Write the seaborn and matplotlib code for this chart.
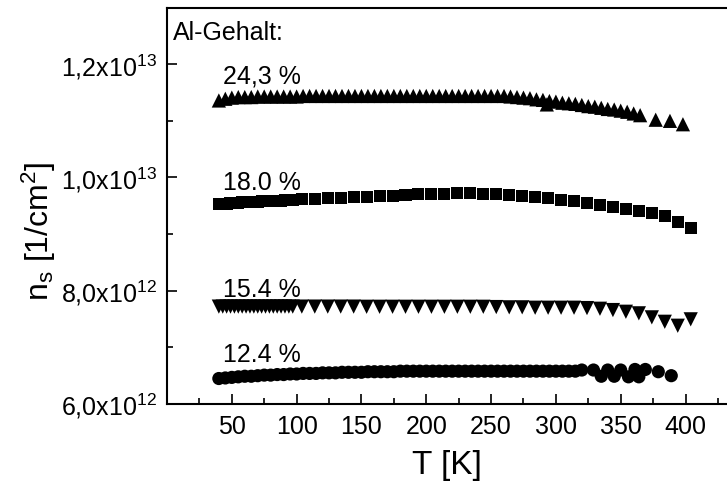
import matplotlib
matplotlib.use("Agg")
import matplotlib.pyplot as plt
import matplotlib.ticker as mticker
import seaborn as sns
import pandas as pd

# ---------------- data (n_s in units of 1e12 cm^-2) ----------------
T_243 = [40, 45, 50, 55, 60, 65, 70, 75, 80, 85, 90, 95, 100,
         105, 110, 115, 120, 125, 130, 135, 140, 145, 150, 155, 160, 165, 170, 175, 180,
         185, 190, 195, 200, 205, 210, 215, 220, 225, 230, 235, 240, 245, 250, 255, 260,
         265, 270, 275, 280, 285, 290, 295, 300, 305, 310, 315, 320, 325, 330, 335, 340,
         345, 350, 355, 360, 365, 293, 377, 388, 398]
n_243 = [11.36, 11.39, 11.41, 11.42, 11.42, 11.42, 11.43, 11.43, 11.43, 11.43, 11.43, 11.43, 11.43,
         11.44, 11.44, 11.44, 11.44, 11.44, 11.44, 11.44, 11.44, 11.44, 11.44, 11.44, 11.44, 11.44, 11.44, 11.44, 11.44,
         11.44, 11.44, 11.44, 11.44, 11.44, 11.44, 11.44, 11.44, 11.44, 11.44, 11.44, 11.44, 11.44, 11.44, 11.44, 11.44,
         11.43, 11.42, 11.41, 11.40, 11.38, 11.37, 11.35, 11.34, 11.32, 11.31, 11.30, 11.28, 11.26, 11.25, 11.23, 11.21,
         11.20, 11.18, 11.16, 11.13, 11.10, 11.29, 11.02, 11.00, 10.94]

T_180 = [40, 43, 46, 49, 52, 55, 58, 61, 64, 67, 70, 73, 76, 79, 82, 85, 88, 91, 94, 97,
         104, 114, 124, 134, 144,
         154, 164, 174, 184, 194, 204, 214, 224, 234, 244, 254, 264, 274, 284, 294, 304,
         314, 324, 334, 344, 354, 364, 374, 384, 394, 404]
n_180 = [9.53, 9.535, 9.54, 9.545, 9.55, 9.555, 9.56, 9.565, 9.57, 9.572, 9.575, 9.58, 9.582,
         9.585, 9.588, 9.59, 9.592, 9.595, 9.598, 9.60,
         9.615, 9.625, 9.635, 9.645, 9.652,
         9.658, 9.671, 9.676, 9.688, 9.701, 9.706, 9.711, 9.718, 9.718, 9.711, 9.701, 9.688, 9.671,
         9.648, 9.630, 9.600, 9.577, 9.547, 9.517, 9.482, 9.441, 9.406, 9.365, 9.312, 9.217, 9.111]

T_154 = [40, 43, 46, 49, 52, 55, 58, 61, 64, 67, 70, 73, 76, 79, 82, 85, 88, 91, 94, 97,
         104, 114, 124, 134, 144,
         154, 164, 174, 184, 194, 204, 214, 224, 234, 244, 254, 264, 274, 284, 294, 304,
         314, 324, 334, 344, 354, 364, 374, 384, 394, 404]
n_154 = [7.72, 7.72, 7.72, 7.72, 7.72, 7.72, 7.72, 7.72, 7.72, 7.72, 7.72, 7.72, 7.72,
         7.72, 7.72, 7.72, 7.72, 7.72, 7.72, 7.72,
         7.72, 7.72, 7.72, 7.72, 7.72,
         7.717, 7.717, 7.717, 7.717, 7.717, 7.717, 7.717, 7.717, 7.717, 7.717, 7.712, 7.707, 7.707,
         7.700, 7.700, 7.700, 7.700, 7.694, 7.682, 7.659, 7.629, 7.601, 7.530, 7.452, 7.382, 7.495]

T_124 = [40, 45, 50, 55, 60, 65, 70, 75, 80, 85, 90, 95, 100, 105, 110, 115, 120, 125, 130,
         135, 140, 145, 150, 155, 160, 165, 170, 175, 180,
         185, 190, 195, 200, 205, 210, 215, 220, 225, 230, 235, 240, 245, 250, 255, 260,
         265, 270, 275, 280, 285, 290, 295, 300, 305, 310, 315,
         320, 329, 335, 340, 345, 350, 356, 361, 364, 369, 379, 389]
n_124 = [6.45, 6.46, 6.47, 6.48, 6.49, 6.49, 6.50, 6.51, 6.51, 6.52, 6.52, 6.53, 6.53, 6.54,
         6.54, 6.54, 6.55, 6.55, 6.55, 6.56, 6.56, 6.56, 6.56, 6.57, 6.57, 6.57, 6.57, 6.57, 6.58,
         6.58, 6.58, 6.58, 6.58, 6.58, 6.58, 6.58, 6.58, 6.58, 6.58, 6.58, 6.58, 6.58, 6.58, 6.58, 6.58,
         6.58, 6.58, 6.58, 6.58, 6.58, 6.58, 6.58, 6.58, 6.58, 6.58, 6.58,
         6.60, 6.60, 6.49, 6.60, 6.49, 6.60, 6.48, 6.61, 6.48, 6.61, 6.57, 6.50]

series_labels = ["24,3 %", "18.0 %", "15.4 %", "12.4 %"]
header_label = "Al-Gehalt:"
y_ticks = [6e12, 8e12, 1e13, 1.2e13]
y_tick_labels = ["6,0x10$^{12}$", "8,0x10$^{12}$", "1,0x10$^{13}$", "1,2x10$^{13}$"]
x_ticks = [50, 100, 150, 200, 250, 300, 350, 400]

# ---------------- style ----------------
sns.set_theme(style="ticks")
plt.rcParams["font.family"] = ["Liberation Sans", "DejaVu Sans"]
plt.rcParams["mathtext.fontset"] = "custom"
plt.rcParams["mathtext.rm"] = "Liberation Sans"
plt.rcParams["mathtext.it"] = "Liberation Sans:italic"
plt.rcParams["mathtext.default"] = "regular"
plt.rcParams["text.color"] = "black"
plt.rcParams["axes.labelcolor"] = "black"
plt.rcParams["xtick.color"] = "black"
plt.rcParams["ytick.color"] = "black"

frames = []
for lab, T, n in [(series_labels[0], T_243, n_243), (series_labels[1], T_180, n_180),
                  (series_labels[2], T_154, n_154), (series_labels[3], T_124, n_124)]:
    frames.append(pd.DataFrame({"T": T, "ns": [v * 1e12 for v in n], "sample": lab}))
df = pd.concat(frames, ignore_index=True)

fig = plt.figure(figsize=(7.27, 4.90), dpi=100)
ax = fig.add_axes([0.2297, 0.1755, 0.7703, 0.809])

marker_map = {series_labels[0]: "^", series_labels[1]: "s",
              series_labels[2]: "v", series_labels[3]: "o"}
size_map = {series_labels[0]: 105, series_labels[1]: 75,
            series_labels[2]: 105, series_labels[3]: 90}
for lab in series_labels:
    sub = df[df["sample"] == lab]
    sns.scatterplot(data=sub, x="T", y="ns", marker=marker_map[lab], s=size_map[lab],
                    color="black", edgecolor="none", linewidth=0, ax=ax, legend=False)

ax.set_xlim(0, 432)
ax.set_ylim(6e12, 1.3e13)
ax.set_xticks(x_ticks)
ax.xaxis.set_minor_locator(mticker.MultipleLocator(25))
ax.set_yticks(y_ticks)
ax.set_yticklabels(y_tick_labels)
ax.yaxis.set_minor_locator(mticker.MultipleLocator(1e12))
ax.tick_params(axis="both", which="major", direction="in", length=7, width=1.2,
               labelsize=18, colors="black")
ax.tick_params(axis="both", which="minor", direction="in", length=4.5, width=1.2)
ax.tick_params(axis="y", which="major", pad=7)
ax.tick_params(axis="x", which="major", pad=8)
for side in ["left", "bottom", "top"]:
    ax.spines[side].set_linewidth(1.5)
    ax.spines[side].set_color("black")
ax.spines["right"].set_visible(False)

ax.set_xlabel("T [K]", fontsize=24, labelpad=8)
ax.set_ylabel("n$_\\mathrm{s}$ [1/cm$^2$]", fontsize=23)
ax.yaxis.set_label_coords(-0.195, 0.437)

ax.text(4.5, 12.42e12, header_label, fontsize=18, va="baseline", ha="left")
ax.text(43, 11.66e12, series_labels[0], fontsize=18, va="baseline", ha="left")
ax.text(43, 9.78e12, series_labels[1], fontsize=18, va="baseline", ha="left")
ax.text(43, 7.89e12, series_labels[2], fontsize=18, va="baseline", ha="left")
ax.text(43, 6.75e12, series_labels[3], fontsize=18, va="baseline", ha="left")

fig.savefig("out.png", dpi=100, facecolor="white")
